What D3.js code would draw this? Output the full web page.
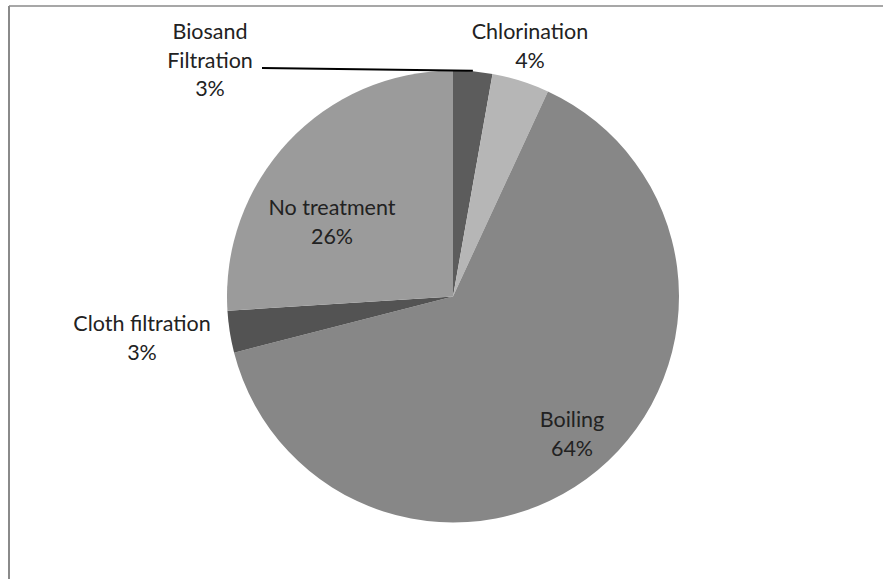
<!DOCTYPE html>
<html>
<head>
<meta charset="utf-8">
<script src="https://cdn.jsdelivr.net/npm/d3@7"></script>
<style>
  html, body { margin: 0; padding: 0; background: #fff; }
  svg { display: block; }
</style>
</head>
<body>
<svg id="chart" width="883" height="579"></svg>
<script>
// ---- data ----
const categories = ["Biosand Filtration", "Chlorination", "Boiling", "Cloth filtration", "No treatment"];
const values = [2.8, 4.1, 64.1, 3.0, 26.0];
const percentLabels = ["3%", "4%", "64%", "3%", "26%"];
const labelLines = [["Biosand", "Filtration", "3%"], ["Chlorination", "4%"], ["Boiling", "64%"], ["Cloth filtration", "3%"], ["No treatment", "26%"]];

// ---- layout / style ----
const colors = ["#5c5c5c", "#b6b6b6", "#878787", "#535353", "#9b9b9b"];
const labelPos = [
  { x: 210, y: 39 },
  { x: 530, y: 39 },
  { x: 572, y: 427 },
  { x: 142, y: 331 },
  { x: 332, y: 215 }
];
const lineHeight = 28.5;
const cx = 453, cy = 296.5, R = 226;

const svg = d3.select("#chart");

// frame (top and left edges visible)
svg.append("line").attr("x1", 9).attr("y1", 6).attr("x2", 883).attr("y2", 6)
  .attr("stroke", "#8a8a8a").attr("stroke-width", 1.5);
svg.append("line").attr("x1", 9).attr("y1", 6).attr("x2", 9).attr("y2", 579)
  .attr("stroke", "#8a8a8a").attr("stroke-width", 2);

const data = categories.map((c, i) => ({ name: c, value: values[i], color: colors[i], lines: labelLines[i], pos: labelPos[i] }));

const pie = d3.pie().sort(null).value(d => d.value).startAngle(0).endAngle(2 * Math.PI);
const arc = d3.arc().innerRadius(0).outerRadius(R);
const arcs = pie(data);

const g = svg.append("g").attr("transform", `translate(${cx},${cy})`);
g.selectAll("path").data(arcs).join("path")
  .attr("d", arc)
  .attr("fill", d => d.data.color);

// leader line for Biosand Filtration (ends at the slice's mid-angle on the rim)
const bio = arcs[0];
const midA = (bio.startAngle + bio.endAngle) / 2;
svg.append("line")
  .attr("x1", 262).attr("y1", 68)
  .attr("x2", cx + R * Math.sin(midA)).attr("y2", cy - R * Math.cos(midA) - 0.5)
  .attr("stroke", "#000").attr("stroke-width", 2);

// labels
const lbl = svg.append("g")
  .attr("font-family", "Lato, 'Open Sans', sans-serif")
  .attr("font-size", 21.5)
  .attr("fill", "#222")
  .attr("text-anchor", "middle");

data.forEach(d => {
  const t = lbl.append("text").attr("x", d.pos.x).attr("y", d.pos.y);
  d.lines.forEach((s, i) => {
    t.append("tspan").attr("x", d.pos.x).attr("y", d.pos.y + i * lineHeight).text(s);
  });
});
</script>
</body>
</html>
